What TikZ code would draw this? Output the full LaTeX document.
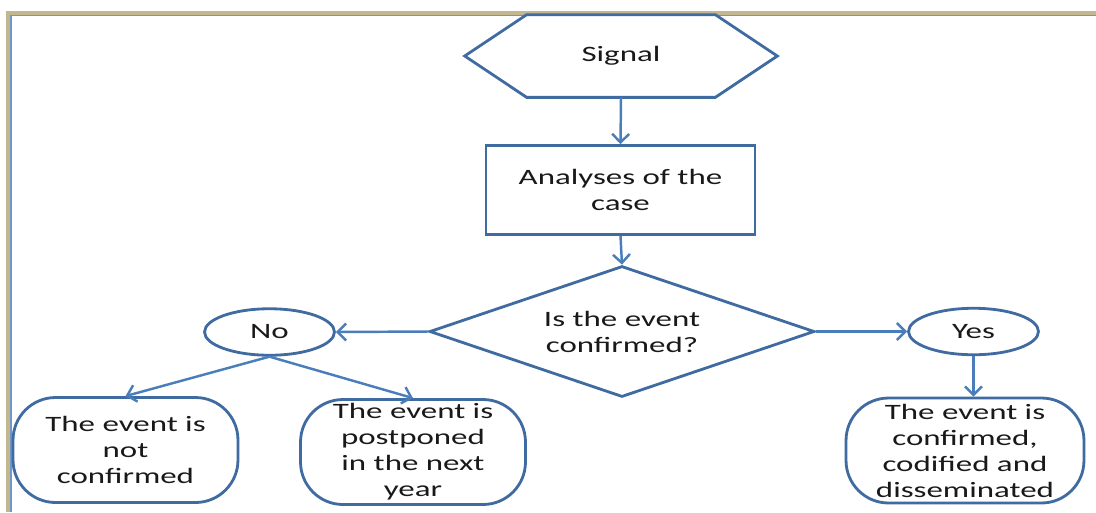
\documentclass[tikz,border=0pt]{standalone}
\usepackage{xcolor}
\usepackage{fontspec}
\setmainfont{Carlito}[FakeStretch=1.5]
\usetikzlibrary{shapes.geometric,positioning,arrows.meta,calc}
\definecolor{shapeblue}{HTML}{3F6BA0}
\definecolor{arrowblue}{HTML}{4A7EBB}
\definecolor{frametan}{HTML}{C2B78E}

\begin{document}
\begin{tikzpicture}[
  x=0.02cm, y=-0.02cm,
  >={Straight Barb[length=1.7mm,width=3.4mm]},
  every node/.style={font=\fontsize{12.5}{14.8}\selectfont, align=center, text=black!90},
  outline/.style={draw=shapeblue, line width=1.6pt},
  procbox/.style={outline, rectangle, minimum width=5.38cm, minimum height=1.78cm},
  decision/.style={outline, diamond, aspect=2.94, inner sep=0pt, minimum width=7.7cm, minimum height=2.62cm},
  answer/.style={outline, ellipse, inner sep=0pt, minimum width=2.6cm, minimum height=0.93cm},
  outcome/.style={outline, rectangle, rounded corners=0.85cm, inner sep=0pt, minimum width=4.5cm, minimum height=2.1cm},
  flow/.style={->, draw=arrowblue, line width=1.4pt},
]
  \useasboundingbox (0,0) rectangle (1096,512);

  % Frame
  \draw[frametan, line width=1.8pt] (8,512) -- (8,13) -- (1096,13);
  \draw[arrowblue!80, line width=0.9pt] (11,512) -- (11,15.5) -- (1096,15.5);

  % Start
  \node (signal) at (621,56) [minimum width=6.24cm, minimum height=1.64cm] {Signal};
  \draw[outline] (signal.west) -- ($(signal.north west)+(62,0)$) -- ($(signal.north east)+(-62,0)$)
    -- (signal.east) -- ($(signal.south east)+(-62,0)$) -- ($(signal.south west)+(62,0)$) -- cycle;

  % Analysis and decision
  \node[procbox] (analysis) at (620.5,190) {Analyses of the\\case};
  \node[decision] (confirmed) at (622,331.5) {Is the event\\confirmed?};

  % Answers
  \node[answer] (no) at (269.5,332) {No};
  \node[answer] (yes) at (973.5,331.5) {Yes};

  % Outcomes
  \node[outcome] (notconf) at (125.5,450) {The event is\\not\\confirmed};
  \node[outcome] (postponed) at (413,452) {The event is\\postponed\\in the next\\year};
  \node[outcome, minimum width=4.76cm] (codified) at (965,450.5) {The event is\\confirmed,\\codified and\\disseminated};

  % Connections
  \draw[flow] (signal.south) -- (analysis.north);
  \draw[flow] (analysis.south) -- (confirmed.north);
  \draw[flow] (confirmed.west) -- (no.east);
  \draw[flow] (confirmed.east) -- (yes.west);
  \draw[flow] (yes.south) -- (yes.south |- codified.north);
  \draw[flow] (no.south) -- (notconf.north);
  \draw[flow] (no.south) -- (postponed.north);

\end{tikzpicture}
\end{document}
